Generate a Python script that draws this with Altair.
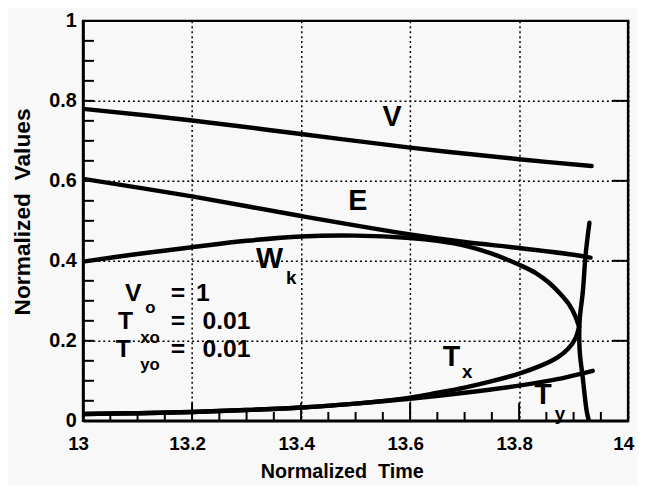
import altair as alt
import pandas as pd

# ---------------- data ----------------
t_V = [13.0, 13.2, 13.4, 13.6, 13.8, 13.933]
V = [0.780, 0.751, 0.717, 0.683, 0.654, 0.637]

t_E = [13.0, 13.2, 13.4, 13.6, 13.7, 13.8, 13.9, 13.931]
E = [0.605, 0.561, 0.512, 0.466, 0.447, 0.432, 0.415, 0.408]

t_Wk = [13.0, 13.1, 13.2, 13.3, 13.4, 13.5, 13.6, 13.65, 13.7, 13.75, 13.8, 13.83, 13.855,
        13.875, 13.892, 13.903, 13.91]
Wk = [0.398, 0.417, 0.434, 0.450, 0.461, 0.463, 0.457, 0.450, 0.438, 0.418, 0.390, 0.370, 0.345,
      0.318, 0.290, 0.262, 0.235]

t_Tx = [13.0, 13.1, 13.2, 13.3, 13.4, 13.5, 13.6, 13.65, 13.7, 13.75, 13.8, 13.84, 13.87,
        13.89, 13.903, 13.91]
Tx = [0.017, 0.019, 0.022, 0.027, 0.033, 0.043, 0.058, 0.070, 0.083, 0.099, 0.118, 0.138, 0.158,
      0.180, 0.205, 0.235]

t_Ty = [13.0, 13.1, 13.2, 13.3, 13.4, 13.5, 13.6, 13.7, 13.8, 13.87, 13.915, 13.935]
Ty = [0.017, 0.019, 0.022, 0.027, 0.033, 0.043, 0.055, 0.070, 0.088, 0.104, 0.118, 0.125]

t_S = [13.929, 13.922, 13.917, 13.911, 13.911, 13.917, 13.924, 13.928]
S = [0.495, 0.415, 0.324, 0.250, 0.178, 0.105, 0.024, 0.0]

x_ticks = [13.0, 13.2, 13.4, 13.6, 13.8, 14.0]
y_ticks = [0.0, 0.2, 0.4, 0.6, 0.8, 1.0]
x_minor = [13.05, 13.1, 13.15, 13.25, 13.3, 13.35, 13.45, 13.5, 13.55,
           13.65, 13.7, 13.75, 13.85, 13.9, 13.95]
x_major_inner = [13.2, 13.4, 13.6, 13.8]
y_minor = [0.05, 0.1, 0.15, 0.2, 0.25, 0.3, 0.35, 0.4, 0.45, 0.5,
           0.55, 0.6, 0.65, 0.7, 0.75, 0.8, 0.85, 0.9, 0.95]
y_right = [0.2, 0.4, 0.6, 0.8]

curve_text = ["V", "E", "W", "T", "T"]
curve_text_t = [13.567, 13.504, 13.342, 13.676, 13.844]
curve_text_v = [0.759, 0.549, 0.405, 0.159, 0.063]
sub_text = ["k", "x", "y"]
sub_text_t = [13.382, 13.705, 13.875]
sub_text_v = [0.356, 0.122, 0.018]

note_sym = ["V", "T", "T"]
note_sym_t = [13.092, 13.078, 13.074]
note_v = [0.320, 0.249, 0.180]
note_sub = ["o", "xo", "yo"]
note_sub_t = [13.114, 13.105, 13.105]
note_sub_v = [0.283, 0.207, 0.139]
note_eq_t = [13.174, 13.174, 13.174]
note_val = ["1", "0.01", "0.01"]
note_val_t = [13.207, 13.219, 13.219]

# ---------------- tables ----------------
rows = []
for name, ts, vs in [("V", t_V, V), ("E", t_E, E), ("Wk", t_Wk, Wk),
                     ("Tx", t_Tx, Tx), ("Ty", t_Ty, Ty), ("S", t_S, S)]:
    for i, (t, v) in enumerate(zip(ts, vs)):
        rows.append({"series": name, "t": t, "v": v, "i": i})
df = pd.DataFrame(rows)

FONT = "Liberation Sans"
xscale = alt.Scale(domain=[13, 14], nice=False, zero=False)
yscale = alt.Scale(domain=[0, 1], nice=False, zero=False)

x_axis = alt.Axis(values=x_ticks, format="~g", grid=True, gridDash=[2, 3], gridColor="black",
                  gridWidth=1.5, gridOpacity=1, ticks=False, tickSize=0, domainColor="black",
                  domainWidth=2.5, labelFont=FONT, labelFontWeight="bold", labelFontSize=19,
                  labelColor="black", labelPadding=14, labelOffset=-5, labelFlush=False,
                  title="Normalized\u00a0\u00a0Time", titleFont=FONT, titleFontWeight="bold",
                  titleFontSize=20, titleColor="black", titleX=262, titleY=57,
                  titleBaseline="alphabetic", titleAlign="center")
y_axis = alt.Axis(values=y_ticks, format="~g", grid=True, gridDash=[2, 3], gridColor="black",
                  gridWidth=1.5, gridOpacity=1, ticks=False, tickSize=0, domainColor="black",
                  domainWidth=2.5, labelFont=FONT, labelFontWeight="bold", labelFontSize=20,
                  labelColor="black", labelPadding=7, labelFlush=False,
                  title="Normalized\u00a0\u00a0Values", titleFont=FONT, titleFontWeight="bold",
                  titleFontSize=23, titleColor="black", titleX=-61, titleY=193, titleAngle=270,
                  titleBaseline="middle", titleAlign="center")

X = alt.X("t:Q", scale=xscale, axis=x_axis)
Y = alt.Y("v:Q", scale=yscale, axis=y_axis)

lines = alt.Chart(df).mark_line(color="black", strokeWidth=4.5, strokeCap="round",
                                strokeJoin="round", interpolate="catmull-rom", clip=True).encode(
    x=X, y=Y, detail="series:N", order="i:Q")

tick_style = dict(color="black", strokeWidth=2)
xminor = alt.Chart(pd.DataFrame({"t": x_minor})).mark_rule(**tick_style).encode(
    x=X, y=alt.datum(0), y2=alt.datum(0.022))
xmajor = alt.Chart(pd.DataFrame({"t": x_major_inner})).mark_rule(**tick_style).encode(
    x=X, y=alt.datum(0), y2=alt.datum(0.045))
yminor = alt.Chart(pd.DataFrame({"v": y_minor})).mark_rule(**tick_style).encode(
    y=Y, x=alt.datum(13.0), x2=alt.datum(13.02))
yright = alt.Chart(pd.DataFrame({"v": y_right})).mark_rule(**tick_style).encode(
    y=Y, x=alt.datum(13.97), x2=alt.datum(14.0))

txt = dict(font=FONT, fontWeight="bold", color="black", baseline="middle")
big = alt.Chart(pd.DataFrame({"t": curve_text_t, "v": curve_text_v, "s": curve_text})).mark_text(
    fontSize=29, align="center", **txt).encode(x=X, y=Y, text="s:N")
subs = alt.Chart(pd.DataFrame({"t": sub_text_t, "v": sub_text_v, "s": sub_text})).mark_text(
    fontSize=19, align="center", **txt).encode(x=X, y=Y, text="s:N")

nsym = alt.Chart(pd.DataFrame({"t": note_sym_t, "v": note_v, "s": note_sym})).mark_text(
    fontSize=25, align="center", **txt).encode(x=X, y=Y, text="s:N")
nsub = alt.Chart(pd.DataFrame({"t": note_sub_t, "v": note_sub_v, "s": note_sub})).mark_text(
    fontSize=17, align="left", **txt).encode(x=X, y=Y, text="s:N")
neq = alt.Chart(pd.DataFrame({"t": note_eq_t, "v": note_v, "s": ["="] * 3})).mark_text(
    fontSize=25, align="center", **txt).encode(x=X, y=Y, text="s:N")
nval = alt.Chart(pd.DataFrame({"t": note_val_t, "v": note_v, "s": note_val})).mark_text(
    fontSize=25, align="left", **txt).encode(x=X, y=Y, text="s:N")

chart = alt.layer(lines, xminor, xmajor, yminor, yright, big, subs, nsym, nsub, neq, nval).properties(
    width=552, height=405,
    autosize=alt.AutoSizeParams(type="none"),
    padding={"left": 76, "top": 10, "right": 10, "bottom": 62},
    background="#f8f8f8",
).configure_view(stroke="black", strokeWidth=2.5)

chart.save("out.html", embed_options={"renderer": "svg", "actions": False})
